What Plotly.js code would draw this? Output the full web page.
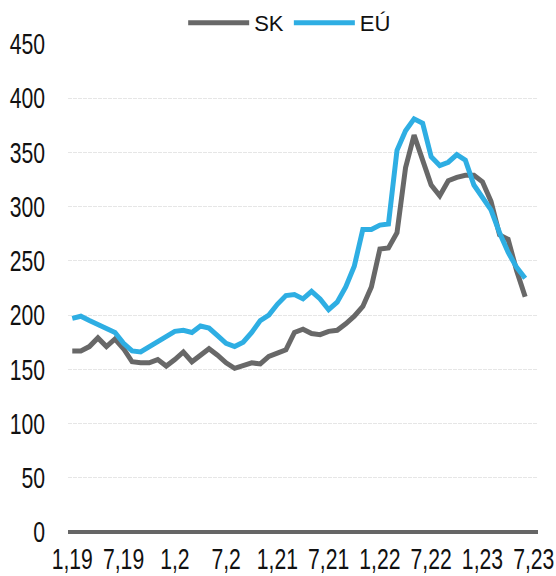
<!DOCTYPE html>
<html>
<head>
<meta charset="utf-8">
<script src="https://cdn.plot.ly/plotly-3.0.1.min.js"></script>
<style>
html,body{margin:0;padding:0;background:#fff;}
#chart{width:556px;height:576px;}
</style>
</head>
<body>
<div id="chart"></div>
<script>
// Months Jan 2019 .. Jul 2023 (axis categories)
var months = [];
for (var y = 2019; y <= 2023; y++) {
  for (var m = 1; m <= 12; m++) {
    if (y === 2023 && m > 7) break;
    months.push(m + "/" + y);
  }
}
// Series values (Jan 2019 .. Jun 2023)
var skValues = [167,167,171,179,171,178,169,157,156,156,159,153,159,166,157,163,169,163,156,151,
                154,156,155,162,165,168,184,187,183,182,185,186,192,199,208,226,261,262,276,336,
                366,344,320,310,324,327,329,329,323,305,274,270,241,217];
var euValues = [197,199,195,191,188,184,174,167,166,171,176,180,185,186,184,190,188,181,174,171,
                175,184,195,200,210,218,219,215,222,215,205,212,226,245,279,279,283,284,352,370,
                381,377,346,338,341,348,343,320,309,297,276,258,244,234];
var tickMonths = ["1/2019","7/2019","1/2020","7/2020","1/2021","7/2021","1/2022","7/2022","1/2023","7/2023"];
var tickLabels = ["1,19","7,19","1,2","7,2","1,21","7,21","1,22","7,22","1,23","7,23"];
var yTicks = [0,50,100,150,200,250,300,350,400,450];

var FONT = "Liberation Sans, Arial, sans-serif";

var traces = [
  {x: months.slice(0, skValues.length), y: skValues, name: "SK", type: "scatter", mode: "lines",
   line: {color: "#686868", width: 5}},
  {x: months.slice(0, euValues.length), y: euValues, name: "EÚ", type: "scatter", mode: "lines",
   line: {color: "#2eaee3", width: 5}}
];

var layout = {
  width: 556, height: 576,
  margin: {l: 68, r: 18, t: 43, b: 44},
  paper_bgcolor: "#fff", plot_bgcolor: "#fff",
  font: {family: FONT, size: 22, color: "#111"},
  showlegend: true,
  legend: {orientation: "h", xref: "container", yref: "container",
           x: 0.521, xanchor: "center", y: 0.96, yanchor: "middle",
           font: {family: FONT, size: 22, color: "#111"}, itemwidth: 61, traceorder: "normal",
           bgcolor: "rgba(0,0,0,0)"},
  xaxis: {type: "category", categoryorder: "array", categoryarray: months,
          range: [-0.5, months.length - 0.5],
          tickmode: "array", tickvals: tickMonths, ticktext: tickLabels, tickangle: 0,
          showgrid: false, zeroline: false, showline: false, ticks: "",
          ticklabelstandoff: 7, automargin: false,
          tickfont: {family: FONT, size: 29, color: "#111"}},
  yaxis: {range: [0, 450], tickmode: "array", tickvals: yTicks,
          showgrid: true, gridcolor: "#e6e6e6", gridwidth: 1, griddash: "4px,1px",
          zeroline: true, zerolinecolor: "#666666", zerolinewidth: 4,
          showline: false, ticks: "", ticklabelstandoff: 22, automargin: false,
          tickfont: {family: FONT, size: 29, color: "#111"}}
};

Plotly.newPlot("chart", traces, layout, {displayModeBar: false, staticPlot: true}).then(function () {
  // condensed tick lettering, as in the reference
  document.querySelectorAll("#chart .xtick text, #chart .ytick text").forEach(function (t) {
    var w = t.getComputedTextLength();
    t.setAttribute("textLength", (w * 0.73).toFixed(1));
    t.setAttribute("lengthAdjust", "spacingAndGlyphs");
  });
});
</script>
</body>
</html>
